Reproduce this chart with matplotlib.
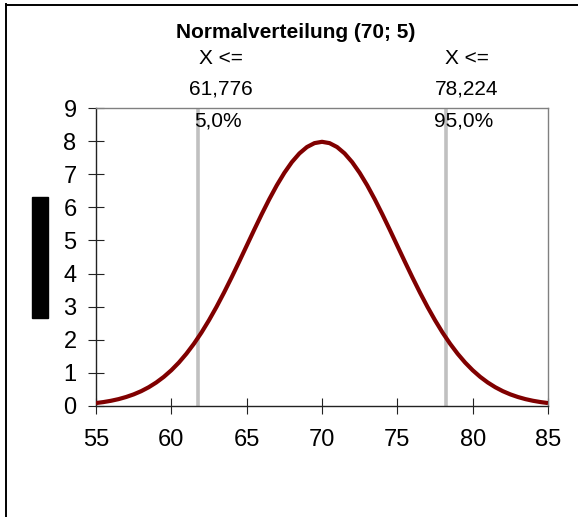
import matplotlib
matplotlib.use("Agg")
import matplotlib.pyplot as plt
from matplotlib.patches import Rectangle
from matplotlib.lines import Line2D

plt.rcParams.update({
    "font.family": ["Liberation Sans", "DejaVu Sans"],
})

# density of N(70; 5), scaled x100, sampled every 0.5
x_vals = [55.0, 55.5, 56.0, 56.5, 57.0, 57.5, 58.0, 58.5, 59.0, 59.5,
          60.0, 60.5, 61.0, 61.5, 62.0, 62.5, 63.0, 63.5, 64.0, 64.5,
          65.0, 65.5, 66.0, 66.5, 67.0, 67.5, 68.0, 68.5, 69.0, 69.5,
          70.0, 70.5, 71.0, 71.5, 72.0, 72.5, 73.0, 73.5, 74.0, 74.5,
          75.0, 75.5, 76.0, 76.5, 77.0, 77.5, 78.0, 78.5, 79.0, 79.5,
          80.0, 80.5, 81.0, 81.5, 82.0, 82.5, 83.0, 83.5, 84.0, 84.5, 85.0]
y_vals = [0.089, 0.119, 0.158, 0.208, 0.272, 0.351, 0.448, 0.567, 0.710, 0.880,
          1.080, 1.312, 1.579, 1.881, 2.218, 2.591, 2.995, 3.428, 3.884, 4.357,
          4.839, 5.322, 5.794, 6.245, 6.665, 7.041, 7.366, 7.628, 7.821, 7.939,
          7.979, 7.939, 7.821, 7.628, 7.366, 7.041, 6.665, 6.245, 5.794, 5.322,
          4.839, 4.357, 3.884, 3.428, 2.995, 2.591, 2.218, 1.881, 1.579, 1.312,
          1.080, 0.880, 0.710, 0.567, 0.448, 0.351, 0.272, 0.208, 0.158, 0.119, 0.089]

quantiles = [61.776, 78.224]
quantile_texts = ["61,776", "78,224"]
prob_texts = ["5,0%", "95,0%"]
x_ticks = [55, 60, 65, 70, 75, 80, 85]
y_ticks = [0, 1, 2, 3, 4, 5, 6, 7, 8, 9]

W, H = 578, 517
fig = plt.figure(figsize=(W / 100, H / 100), dpi=100)
fig.patch.set_facecolor("white")

def fx(px):
    return px / W

def fy(py):
    return 1 - py / H

ax = fig.add_axes([fx(96), fy(406), fx(548) - fx(96), fy(108) - fy(406)])
ax.set_xlim(55, 85)
ax.set_ylim(0, 9)

for q in quantiles:
    ax.axvline(q, color="#c0c0c0", lw=2.6, zorder=1, solid_capstyle="butt")

ax.plot(x_vals, y_vals, color="#800000", lw=3.0, zorder=3,
        solid_capstyle="butt", solid_joinstyle="round")

ax.set_xticks(x_ticks)
ax.set_yticks(y_ticks)
ax.tick_params(axis="y", direction="inout", length=12, width=0.8,
               labelsize=17, pad=8, color="#222222")
ax.tick_params(axis="x", direction="inout", length=11, width=0.8,
               labelsize=17, pad=11, color="#222222")
for s in ["left", "bottom"]:
    ax.spines[s].set_color("#222222")
    ax.spines[s].set_linewidth(1.0)
for s in ["top", "right"]:
    ax.spines[s].set_color("#808080")
    ax.spines[s].set_linewidth(1.0)

# title and quantile labels
fig.text(fx(296), fy(33), "Normalverteilung (70; 5)", ha="center", va="center",
         fontsize=15, fontweight="bold")
label_cx = [221, 467]
for cx, qt, pt in zip(label_cx, quantile_texts, prob_texts):
    fig.text(fx(cx), fy(58), "X <=", ha="center", va="center", fontsize=15)
    fig.text(fx(cx), fy(89), qt, ha="center", va="center", fontsize=15)
    fig.text(fx(cx - 3), fy(121), pt, ha="center", va="center", fontsize=15)

# y-axis label block
fig.patches.append(Rectangle((fx(32), fy(318)), fx(48) - fx(32), fy(197) - fy(318),
                             transform=fig.transFigure, color="black"))

# chart frame edges
fig.lines.append(Line2D([fx(6), fx(6)], [0, fy(4)], transform=fig.transFigure,
                        color="black", lw=1.4))
fig.lines.append(Line2D([fx(6), 1], [fy(4.5), fy(4.5)], transform=fig.transFigure,
                        color="black", lw=1.4))

fig.savefig("out.png", dpi=100)
